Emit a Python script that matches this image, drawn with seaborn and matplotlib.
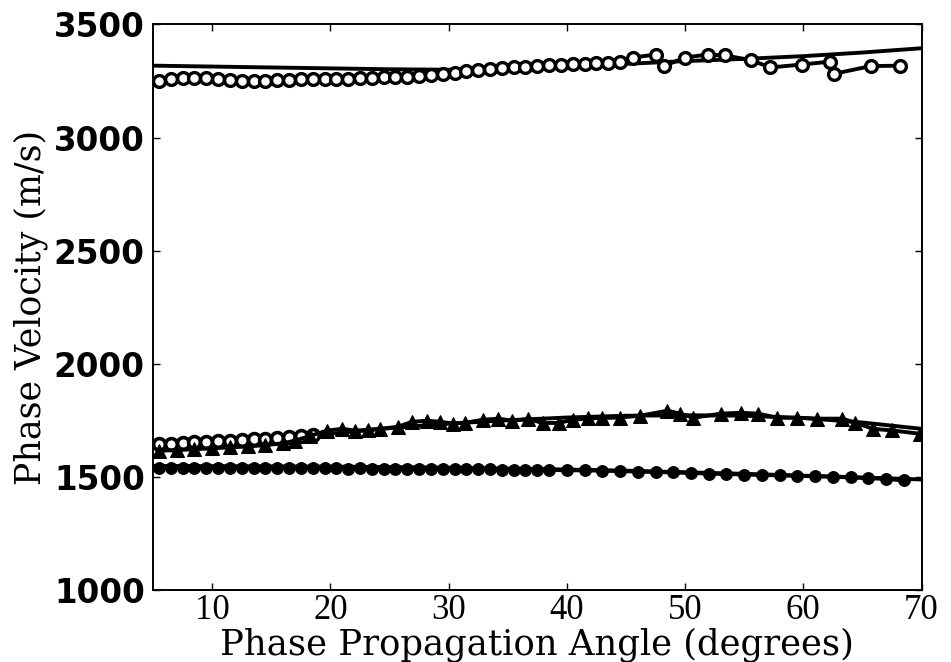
import numpy as np
import pandas as pd
import seaborn as sns
import matplotlib.pyplot as plt

# --- datos ---
# curvas teoricas (linea solida sin marcadores)
teo_x = [5, 10, 15, 20, 25, 30, 35, 40, 45, 50, 55, 60, 65, 70]
teo_alta = [3318, 3314, 3310, 3306, 3302, 3300, 3306, 3315, 3326, 3338, 3348, 3360, 3376, 3395]
teo_media = [1640, 1655, 1670, 1690, 1715, 1735, 1750, 1762, 1770, 1772, 1770, 1760, 1740, 1712]
teo_baja = [1548, 1547, 1546, 1545, 1543, 1540, 1536, 1532, 1527, 1520, 1513, 1505, 1497, 1488]

# velocidad alta, circulos abiertos
alta_x = [5.5, 6.5, 7.5, 8.5, 9.5, 10.5, 11.5, 12.5, 13.5, 14.5, 15.5, 16.5, 17.5,
          18.5, 19.5, 20.5, 21.5, 22.5, 23.5, 24.5, 25.5, 26.5, 27.5, 28.5, 29.5,
          30.5, 31.5, 32.5, 33.5, 34.5, 35.5, 36.5, 37.5, 38.5, 39.5, 40.5, 41.5,
          42.5, 43.5, 44.5, 45.6, 47.5, 48.2, 50.0, 51.9, 53.4, 55.6, 57.2, 59.9,
          62.3, 62.6, 65.7, 68.2]
alta_v = [3250, 3258, 3264, 3265, 3262, 3258, 3254, 3249, 3248, 3250, 3253, 3256, 3258,
          3260, 3260, 3258, 3260, 3262, 3264, 3266, 3266, 3268, 3272, 3276, 3281,
          3287, 3293, 3299, 3304, 3308, 3312, 3314, 3317, 3320, 3322, 3324, 3326,
          3328, 3330, 3332, 3354, 3367, 3316, 3354, 3367, 3363, 3342, 3310, 3323,
          3336, 3282, 3316, 3318]

# velocidad media, circulos abiertos (angulos bajos)
media_c_x = [5.5, 6.5, 7.5, 8.5, 9.5, 10.5, 11.5, 12.5, 13.5, 14.5, 15.5, 16.5, 17.5, 18.5]
media_c_v = [1645, 1647, 1650, 1652, 1654, 1656, 1659, 1662, 1665, 1668, 1672, 1676, 1680, 1685]

# velocidad media, triangulos
media_t_x = [5.5, 7.0, 8.5, 10.0, 11.5, 13.0, 14.5, 16.0, 17.0, 18.3, 19.7, 21.0, 22.1,
             23.2, 24.2, 25.7, 26.9, 28.2, 29.3, 30.4, 31.4, 32.9, 34.2, 35.4, 36.7,
             38.0, 39.3, 40.5, 41.8, 43.0, 44.5, 46.2, 48.5, 49.6, 50.7, 53.0, 54.7,
             56.2, 57.8, 59.5, 61.2, 63.3, 64.4, 65.9, 67.5, 69.9]
media_t_v = [1615, 1618, 1622, 1626, 1630, 1634, 1640, 1648, 1660, 1681, 1704, 1712, 1704,
             1708, 1712, 1721, 1743, 1748, 1743, 1735, 1739, 1752, 1757, 1748, 1755,
             1738, 1738, 1752, 1758, 1760, 1762, 1770, 1792, 1779, 1761, 1779, 1783,
             1779, 1761, 1761, 1757, 1757, 1739, 1712, 1705, 1690]

# velocidad baja, circulos llenos
baja_x = [5.5, 6.5, 7.5, 8.5, 9.5, 10.5, 11.5, 12.5, 13.5, 14.5, 15.5, 16.5, 17.5,
          18.5, 19.5, 20.5, 21.5, 22.5, 23.5, 24.5, 25.5, 26.5, 27.5, 28.5, 29.5,
          30.5, 31.5, 32.5, 33.5, 34.5, 35.5, 36.5, 37.5, 38.5, 40.0, 41.5, 43.0,
          44.5, 46.0, 47.5, 49.0, 50.5, 52.0, 53.5, 55.0, 56.5, 58.0, 59.5, 61.0,
          62.5, 64.0, 65.5, 67.0, 68.5]
baja_v = [1540, 1541, 1540, 1539, 1540, 1539, 1538, 1539, 1538, 1538, 1539, 1538, 1537,
          1538, 1537, 1537, 1536, 1537, 1536, 1536, 1535, 1536, 1535, 1534, 1535,
          1534, 1533, 1534, 1533, 1532, 1532, 1531, 1531, 1530, 1529, 1528, 1527,
          1525, 1523, 1521, 1519, 1517, 1514, 1512, 1510, 1508, 1506, 1504, 1502,
          1500, 1497, 1494, 1490, 1484]

x_ticks = [10, 20, 30, 40, 50, 60, 70]
y_ticks = [1000, 1500, 2000, 2500, 3000, 3500]

# --- grafica ---
sns.set_theme(style='ticks', rc={'text.color': 'black', 'axes.labelcolor': 'black',
                                 'xtick.color': 'black', 'ytick.color': 'black',
                                 'axes.edgecolor': 'black'})
plt.rcParams['font.family'] = ['DejaVu Sans']

fig = plt.figure(figsize=(9.51, 6.62), dpi=100)
ax = fig.add_axes([0.161, 0.109, 0.808, 0.854])

lw = 2.8
for v in [teo_alta, teo_media, teo_baja]:
    sns.lineplot(x=teo_x, y=v, ax=ax, color='black', linewidth=lw)

sns.lineplot(x=alta_x, y=alta_v, ax=ax, color='black', linewidth=lw, sort=False,
             estimator=None, marker='o', markersize=8.5, markerfacecolor='white',
             markeredgecolor='black', markeredgewidth=2.4)
sns.lineplot(x=media_c_x, y=media_c_v, ax=ax, color='black', linewidth=lw, sort=False,
             estimator=None, marker='o', markersize=8.5, markerfacecolor='white',
             markeredgecolor='black', markeredgewidth=2.6)
sns.lineplot(x=media_t_x, y=media_t_v, ax=ax, color='black', linewidth=lw, sort=False,
             estimator=None, marker='^', markersize=10, markerfacecolor='black',
             markeredgecolor='black')
sns.lineplot(x=baja_x, y=baja_v, ax=ax, color='black', linewidth=lw, sort=False,
             estimator=None, marker='o', markersize=8.5, markerfacecolor='black',
             markeredgecolor='black')

ax.set_xlim(5, 70)
ax.set_ylim(1000, 3500)
ax.set_xticks(x_ticks)
ax.set_yticks(y_ticks)
ax.set_xticklabels([str(t) for t in x_ticks], family='Liberation Serif', fontsize=25)
ax.set_yticklabels([str(t) for t in y_ticks], family='DejaVu Sans', fontweight='bold',
                   fontsize=23.5)
ax.tick_params(direction='in', length=5, width=1, color='black', pad=6,
               top=True, right=True)
ax.tick_params(axis='x', pad=3)
for s in ax.spines.values():
    s.set_color('black')
    s.set_linewidth(1.4)

ax.set_xlabel('Phase Propagation Angle (degrees)', family='DejaVu Serif', fontsize=25.5,
              labelpad=0)
ax.set_ylabel('Phase Velocity (m/s)', family='DejaVu Serif', fontsize=25, labelpad=4)

fig.savefig('out.png', dpi=100)
